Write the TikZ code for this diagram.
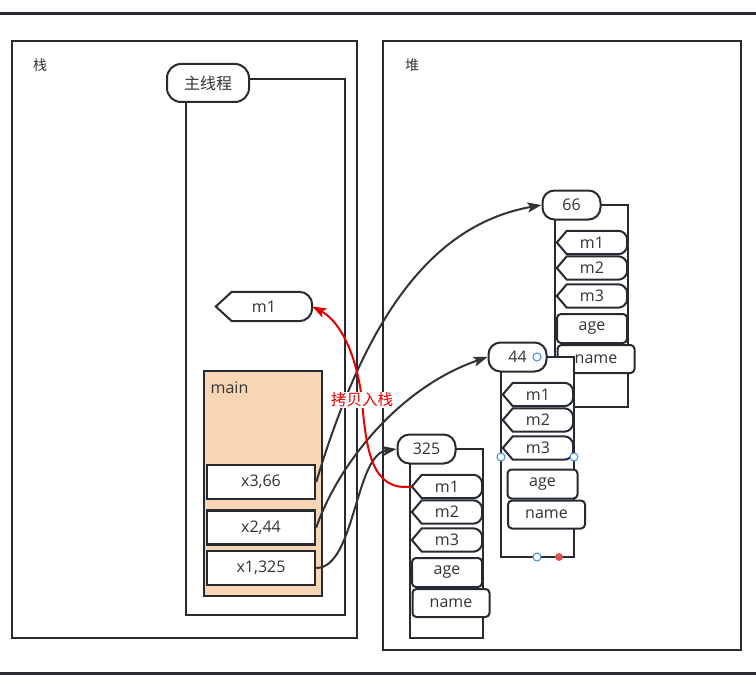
\documentclass[tikz,border=0pt]{standalone}
\usepackage{fontspec}
\setmainfont{Open Sans}
\newfontfamily\cjk{Noto Sans CJK SC}
\usepackage{tikz}
\usetikzlibrary{arrows.meta, positioning, calc}
\definecolor{inkline}{HTML}{262B31}
\definecolor{inktext}{HTML}{333333}
\definecolor{peach}{HTML}{F8D5B4}
\definecolor{copyred}{HTML}{E80000}
\definecolor{handleblue}{HTML}{3C8CE7}
\definecolor{handlered}{HTML}{D9534F}
\tikzset{
    frameline/.style={draw=inkline, line width=2pt},
    labeltext/.style={text=inktext, font=\fontsize{16}{19}\selectfont, inner sep=0pt},
    pillbox/.style={frameline, labeltext, fill=white, rounded corners=12pt, minimum width=58pt, minimum height=29pt},
    tagtext/.style={labeltext, minimum width=70pt, minimum height=23pt},
    fieldbox/.style={frameline, labeltext, fill=white, rounded corners=4pt, minimum width=70pt, minimum height=29pt},
    varbox/.style={draw=inkline, line width=2.5pt, labeltext, fill=white, minimum width=108pt, minimum height=34pt},
    mainbox/.style={frameline, fill=peach, minimum width=118pt, minimum height=225pt},
    refarrow/.style={draw=inktext, line width=2pt, -{Stealth[length=14pt, width=10pt, inset=3pt]}},
    copyarrow/.style={draw=copyred, line width=2pt, -{Stealth[length=14pt, width=10pt, inset=3pt]}},
    copylabel/.style={fill=white, text=copyred, font=\cjk\fontsize{15.5}{18}\selectfont, inner sep=1pt},
    handle/.style={circle, draw=handleblue, line width=1pt, fill=white, minimum size=8pt, inner sep=0pt}
}
% outline of a method tag: pointed on the left, round on the right
\newcommand{\tagline}[3]{%
  \draw[frameline] (#1.west) -- ($(#1.north west)+(#2,0)$) -- ($(#1.north east)+(-#3,0)$)
    arc[start angle=90, end angle=0, radius=#3] -- ($(#1.south east)+(0,#3)$)
    arc[start angle=0, end angle=-90, radius=#3] -- ($(#1.south west)+(#2,0)$) -- cycle;}

\begin{document}
\begin{tikzpicture}[x=1pt, y=1pt]
    \useasboundingbox (0,0) rectangle (756,-685);
    % Frame lines
    \draw[draw=inkline, line width=3pt] (0,-14) -- (756,-14);
    \draw[draw=inkline, line width=3pt] (0,-673) -- (756,-673);

    % Stack side
    \draw[frameline] (12,-41) rectangle (357,-638);
    \node[labeltext, font=\cjk\fontsize{14}{16}\selectfont] (stacklbl) at (40,-65) {栈};
    \draw[frameline] (186,-79) rectangle (345,-615);
    \node[pillbox, minimum width=82pt, minimum height=38pt, rounded corners=14pt, font=\cjk\fontsize{16}{19}\selectfont] (thread) at (208,-83) {主线程};

    \node[tagtext, minimum width=96pt, minimum height=29pt] (sm1) at (264,-306.5) {m1};
    \tagline{sm1}{16}{13}

    \node[mainbox] (main) at (263,-483.5) {};
    \node[labeltext] (mainlbl) at (229.5,-388) {main};
    \node[varbox] (x3) at (261,-482) {x3,66};
    \node[varbox] (x2) at (261,-527.5) {x2,44};
    \node[varbox] (x1) at (261,-568) {x1,325};

    % Heap side
    \draw[frameline] (383,-41) rectangle (741,-650);
    \node[labeltext, font=\cjk\fontsize{14}{16}\selectfont] (heaplbl) at (412,-65) {堆};

    \foreach \obj/\px/\py/\ph/\val/\dx/\dy in {o66/555/205/202/66/0/0, o44/501/357/200/44/4.5/3.5, o325/410/449/189/325/0/0}{
        \draw[frameline, fill=white] (\px,-\py) rectangle ++(73,-\ph);
        \node[pillbox] (\obj) at (\px+16.5,-\py) {\val};
        \foreach \m/\my in {m1/37.5, m2/63, m3/91}{
            \node[tagtext] (\obj-\m) at (\px+37,-\py-\my) {\m};
            \tagline{\obj-\m}{10}{9}
        }
        \node[fieldbox] (\obj-age) at (\px+37+\dx,-\py-123.5-\dy) {age};
        \node[fieldbox, minimum width=77pt, minimum height=28pt] (\obj-name) at (\px+41+\dx,-\py-154-\dy) {name};
    }

    % Selection handles
    \node[handle] (hdl1) at (537,-357) {};
    \node[handle] (hdl2) at (501,-457) {};
    \node[handle] (hdl3) at (574,-457) {};
    \node[handle] (hdl4) at (537,-557) {};
    \node[circle, fill=handlered, minimum size=8pt, inner sep=0pt] (hdl5) at (559,-557) {};

    % Arrows
    \draw[refarrow] (x3.east) .. controls (365,-320) and (430,-225) .. (o66.west);
    \draw[refarrow] (x2.east) .. controls (338,-465) and (398,-388) .. (o44.west);
    \draw[refarrow] (x1.east) .. controls (355,-568) and (355,-455) .. (o325.west);
    \draw[copyarrow] (o325-m1.west) .. controls (372,-492) and (366,-450) .. (362,-400)
        node[copylabel] (copylbl) {拷贝入栈}
        .. controls (356,-350) and (338,-320) .. (sm1.east);
\end{tikzpicture}
\end{document}
